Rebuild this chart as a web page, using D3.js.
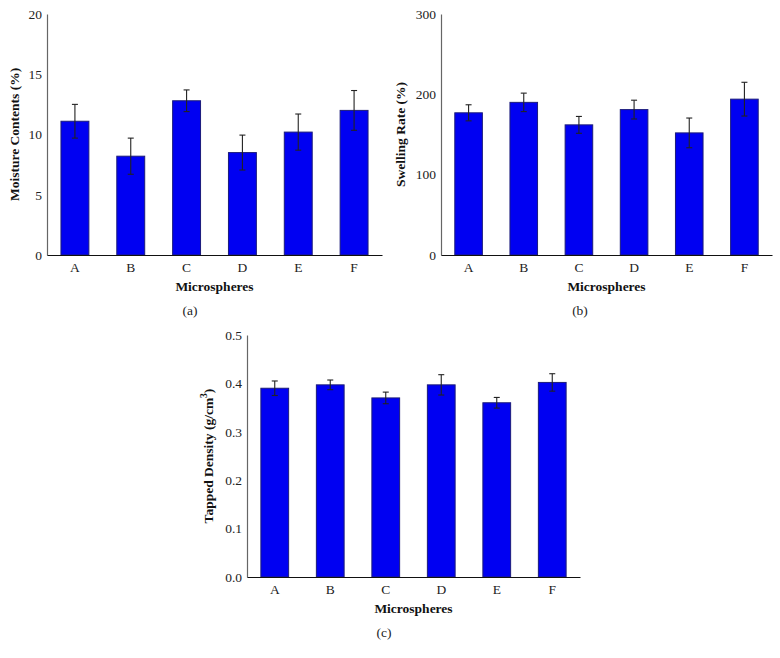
<!DOCTYPE html>
<html>
<head>
<meta charset="utf-8">
<script src="https://cdn.jsdelivr.net/npm/d3@7"></script>
<style>
  body { margin: 0; background: #fff; }
  svg text { font-family: 'Liberation Serif', 'DejaVu Serif', serif !important; }
</style>
</head>
<body>
<svg id="chart" width="780" height="658"></svg>
<script>
const categories = ['A', 'B', 'C', 'D', 'E', 'F'];

// (a) moisture contents
const moisture = [11.1, 8.2, 12.8, 8.5, 10.2, 12.0];
const moistureErr = [1.4, 1.5, 0.9, 1.45, 1.5, 1.65];
const moistureTicks = [0, 5, 10, 15, 20];

// (b) swelling rate
const swelling = [177, 190, 162, 181, 152, 194];
const swellingErr = [10, 11.5, 10.5, 11.7, 18.5, 21];
const swellingTicks = [0, 100, 200, 300];

// (c) tapped density
const density = [0.39, 0.397, 0.37, 0.397, 0.36, 0.402];
const densityErr = [0.015, 0.01, 0.012, 0.021, 0.011, 0.018];
const densityTicks = [0.0, 0.1, 0.2, 0.3, 0.4, 0.5];

const svg = d3.select('#chart');

const drawPanel = (p) => {
  const g = svg.append('g');

  const x = d3.scaleBand()
    .domain(categories)
    .range([p.left, p.right])
    .paddingInner(0.5)
    .paddingOuter(0.25);

  const y = d3.scaleLinear()
    .domain([0, p.max])
    .range([p.bottom, p.top]);

  // bars
  g.append('g').selectAll('rect')
    .data(p.values)
    .enter()
    .append('rect')
    .attr('x', (d, i) => x(categories[i]))
    .attr('y', (d) => y(d))
    .attr('width', x.bandwidth())
    .attr('height', (d) => y(0) - y(d))
    .attr('fill', '#0000f2')
    .attr('stroke', '#1c1c7a')
    .attr('stroke-width', 1);

  // error bars
  const err = g.append('g').attr('stroke', '#222').attr('stroke-width', 1.1);
  p.values.forEach((d, i) => {
    const cx = x(categories[i]) + x.bandwidth() / 2;
    const hi = y(d + p.errors[i]);
    const lo = y(d - p.errors[i]);
    err.append('line').attr('x1', cx).attr('x2', cx).attr('y1', hi).attr('y2', lo);
    err.append('line').attr('x1', cx - 3).attr('x2', cx + 3).attr('y1', hi).attr('y2', hi);
    err.append('line').attr('x1', cx - 3).attr('x2', cx + 3).attr('y1', lo).attr('y2', lo);
  });

  // y axis
  const yAxis = g.append('g')
    .attr('transform', 'translate(' + p.left + ',0)')
    .call(d3.axisLeft(y).tickValues(p.ticks).tickSize(0).tickPadding(5).tickFormat(p.fmt));
  yAxis.attr('font-family', null);
  yAxis.select('.domain').attr('stroke', '#666').attr('stroke-width', 1.2);
  yAxis.selectAll('text').attr('font-size', 13.5).attr('fill', '#222');

  // x axis
  const xAxis = g.append('g')
    .attr('transform', 'translate(0,' + p.bottom + ')')
    .call(d3.axisBottom(x).tickSize(0).tickPadding(7));
  xAxis.attr('font-family', null);
  xAxis.select('.domain').attr('stroke', '#111').attr('stroke-width', 1.2);
  xAxis.selectAll('text').attr('font-size', 13.5).attr('fill', '#222');

  // titles
  g.append('text')
    .attr('x', (p.left + p.right) / 2)
    .attr('y', p.bottom + 36)
    .attr('text-anchor', 'middle')
    .attr('font-size', 13.5)
    .attr('font-weight', 'bold')
    .attr('fill', '#111')
    .text('Microspheres');

  const yt = g.append('text')
    .attr('transform', 'translate(' + p.titleX + ',' + (p.top + p.bottom) / 2 + ') rotate(-90)')
    .attr('text-anchor', 'middle')
    .attr('font-size', 13.5)
    .attr('font-weight', 'bold')
    .attr('fill', '#111');
  if (p.sup) {
    yt.append('tspan').text(p.ytitle);
    yt.append('tspan').attr('font-size', 9.5).attr('dy', -6).text(p.sup);
    yt.append('tspan').attr('dy', 6).text(')');
  } else {
    yt.text(p.ytitle);
  }

  g.append('text')
    .attr('x', p.capX)
    .attr('y', p.capY)
    .attr('text-anchor', 'middle')
    .attr('font-size', 13.5)
    .attr('fill', '#222')
    .text(p.caption);
};

drawPanel({
  values: moisture, errors: moistureErr, ticks: moistureTicks, max: 20,
  fmt: d3.format('d'),
  left: 47, right: 382, top: 14, bottom: 255,
  titleX: 19, ytitle: 'Moisture Contents (%)',
  caption: '(a)', capX: 190, capY: 315
});

drawPanel({
  values: swelling, errors: swellingErr, ticks: swellingTicks, max: 300,
  fmt: d3.format('d'),
  left: 441, right: 772, top: 14, bottom: 255,
  titleX: 405, ytitle: 'Swelling Rate (%)',
  caption: '(b)', capX: 580, capY: 315
});

drawPanel({
  values: density, errors: densityErr, ticks: densityTicks, max: 0.5,
  fmt: d3.format('.1f'),
  left: 247, right: 580, top: 335, bottom: 577,
  titleX: 213, ytitle: 'Tapped Density (g/cm', sup: '3',
  caption: '(c)', capX: 384, capY: 637
});
</script>
</body>
</html>
